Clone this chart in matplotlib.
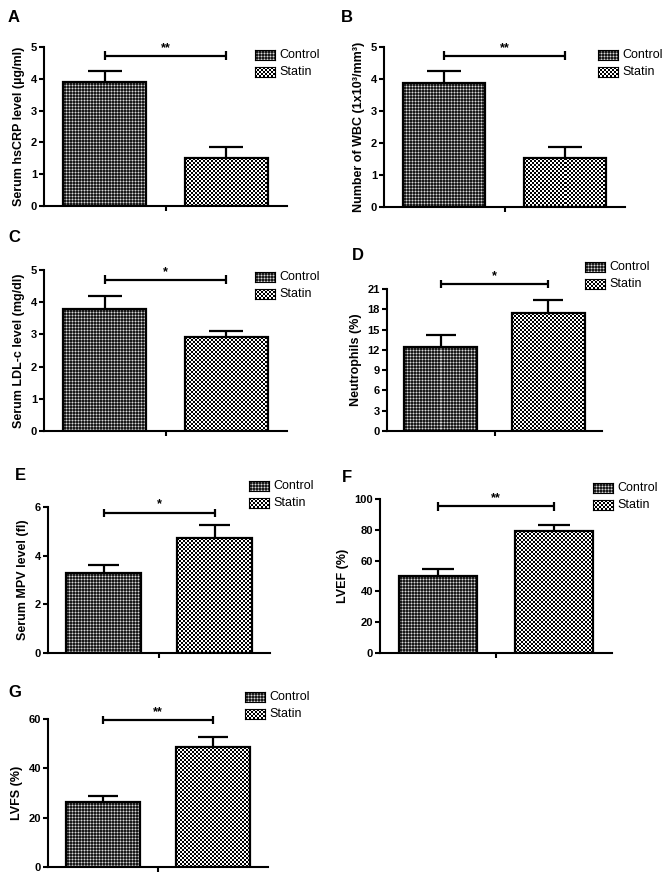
import matplotlib as mpl
mpl.use('Agg')
import matplotlib.pyplot as plt
import numpy as np

plt.rcParams['font.family'] = ['Liberation Sans', 'DejaVu Sans']

W, H = 669, 880

# Data (mean and SEM for each group)
panels = ['A', 'B', 'C', 'D', 'E', 'F', 'G']
ylabels = ['Serum hsCRP level (\u00b5g/ml)',
           'Number of WBC (1x10\u00b3/mm\u00b3)',
           'Serum LDL-c level (mg/dl)',
           'Neutrophils (%)',
           'Serum MPV level (fl)',
           'LVEF (%)',
           'LVFS (%)']
groups = ['Control', 'Statin']
control_mean = [3.89, 3.89, 3.79, 12.4, 3.30, 50.2, 26.2]
control_err = [0.36, 0.37, 0.41, 1.8, 0.33, 4.2, 2.6]
statin_mean = [1.52, 1.54, 2.91, 17.4, 4.74, 79.3, 48.7]
statin_err = [0.34, 0.34, 0.19, 1.9, 0.50, 3.9, 3.9]
sig_labels = ['**', '**', '*', '*', '*', '**', '**']
sig_y = [4.72, 4.72, 4.69, 21.7, 5.77, 95.2, 59.6]
y_max = [5, 5, 5, 21, 6, 100, 60]
y_step = [1, 1, 1, 3, 2, 20, 20]

# layout in pixels: axes left, axes right, y of zero, y of top tick
axes_px = [(44, 287, 206, 47),
           (384, 625, 207, 47),
           (44, 287, 431, 270),
           (387, 602, 431, 289),
           (48, 270, 653, 507),
           (380, 612, 653, 499),
           (48, 268, 867, 719)]
letter_px = [(8, 17), (341, 17), (8, 237), (352, 255), (15, 475),
             (342, 477), (8, 692)]
legend_px = [(255, 55), (598, 55), (255, 277), (585, 267), (249, 486),
             (593, 488), (245, 697)]


def control_texture(nrows, ncols):
    yy, xx = np.mgrid[0:nrows, 0:ncols]
    tex = np.full((nrows, ncols), 0.1)
    tex[(xx % 3 == 0) | (yy % 3 == 0)] = 0.42
    tex[(xx % 3 == 0) & (yy % 3 == 0)] = 0.85
    return tex


def statin_texture(nrows, ncols):
    yy, xx = np.mgrid[0:nrows, 0:ncols]
    return ((xx // 2 + yy // 2) % 2).astype(float)


textures = [control_texture, statin_texture]


def fig_rect(left, right, y0, ytop):
    return [left / W, 1 - y0 / H, (right - left) / W, (y0 - ytop) / H]


def draw_legend(fig, x, y):
    for i, name in enumerate(groups):
        yy = y + i * 17
        sw = fig.add_axes([x / W, 1 - (yy + 5) / H, 20 / W, 10 / H])
        sw.imshow(textures[i](10, 20), cmap='gray', vmin=0, vmax=1,
                  interpolation='nearest', aspect='auto')
        sw.set_xticks([])
        sw.set_yticks([])
        for s in sw.spines.values():
            s.set_linewidth(0.8)
        fig.text((x + 24) / W, 1 - yy / H, name, fontsize=9, va='center',
                 ha='left')


fig = plt.figure(figsize=(W / 100, H / 100), dpi=100)

width = 0.68
for i in range(len(panels)):
    ax = fig.add_axes(fig_rect(*axes_px[i]))
    ax.set_xlim(-0.5, 1.5)
    ax.set_ylim(0, y_max[i])
    means = [control_mean[i], statin_mean[i]]
    errs = [control_err[i], statin_err[i]]
    for j in range(2):
        # snap the fill texture to whole screen pixels to avoid seams
        p0 = np.round(ax.transData.transform((j - width / 2, 0)))
        p1 = np.round(ax.transData.transform((j + width / 2, means[j])))
        d0 = ax.transData.inverted().transform(p0)
        d1 = ax.transData.inverted().transform(p1)
        nc = int(p1[0] - p0[0])
        nr = max(int(p1[1] - p0[1]), 1)
        ax.imshow(textures[j](nr, nc), cmap='gray', vmin=0, vmax=1,
                  interpolation='nearest', aspect='auto', zorder=1,
                  extent=(d0[0], d1[0], d0[1], d1[1]))
        ax.bar(j, means[j], width=width, facecolor='none', edgecolor='black',
               linewidth=1.6, zorder=2)
        ax.vlines(j, means[j], means[j] + errs[j], color='black',
                  linewidth=1.6, zorder=1)
        ax.hlines(means[j] + errs[j], j - 0.14, j + 0.14, color='black',
                  linewidth=1.6, zorder=1)

    # significance bracket
    d = 0.028 * y_max[i]
    ax.hlines(sig_y[i], 0, 1, color='black', linewidth=1.6, clip_on=False)
    ax.vlines([0, 1], sig_y[i] - d, sig_y[i] + d, color='black',
              linewidth=1.6, clip_on=False)
    ax.annotate(sig_labels[i], (0.5, sig_y[i]), xytext=(0, 1.5),
                textcoords='offset points', ha='center', va='bottom',
                fontsize=9, fontweight='bold', annotation_clip=False)

    ax.set_xlim(-0.5, 1.5)
    ax.set_ylim(0, y_max[i])
    ax.set_yticks(range(0, y_max[i] + 1, y_step[i]))
    ax.set_xticks([0.5])
    ax.set_xticklabels([])
    ax.tick_params(axis='both', direction='out', length=3.5, width=1.5,
                   labelsize=8, pad=1.5)
    for lab in ax.get_yticklabels():
        lab.set_fontweight('bold')
    for side in ['top', 'right']:
        ax.spines[side].set_visible(False)
    for side in ['left', 'bottom']:
        ax.spines[side].set_linewidth(1.5)
    ax.set_ylabel(ylabels[i], fontsize=9, fontweight='bold', labelpad=4)

    fig.text(letter_px[i][0] / W, 1 - letter_px[i][1] / H, panels[i],
             fontsize=12, fontweight='bold', va='center', ha='left')
    draw_legend(fig, *legend_px[i])

fig.savefig('out.png', dpi=100)
plt.close()
